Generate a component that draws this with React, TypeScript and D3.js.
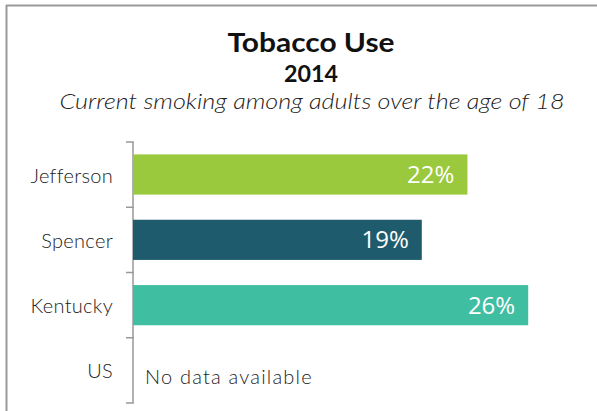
import React from "react";
import * as d3 from "d3";

const categories = ["Jefferson", "Spencer", "Kentucky", "US"];
const values: (number | null)[] = [22, 19, 26, null];
const colors = ["#9AC93D", "#1E5C6D", "#3FBEA1", "#cccccc"];
const title = "Tobacco Use";
const year = "2014";
const subtitle = "Current smoking among adults over the age of 18";
const noDataText = "No data available";

export default function App() {
  const W = 597, H = 411;
  const x = d3.scaleLinear().domain([0, 30]).range([133, 589]);
  const y = d3.scaleBand<string>().domain(categories).range([142, 403]).paddingInner(0.385).paddingOuter(0.19);
  const y0 = 142;
  const boundaries = d3.range(categories.length + 1).map((i) => y0 + i * (261 / categories.length));
  const gothic = "'Lato', 'DejaVu Sans', sans-serif";
  return (
    <svg width={W} height={H} style={{ position: "absolute", left: 0, top: 0, background: "#fff" }}>
      <line x1={6} x2={597} y1={5.5} y2={5.5} stroke="#9a9a9a" strokeWidth={2} />
      <line x1={6.5} x2={6.5} y1={5} y2={411} stroke="#9a9a9a" strokeWidth={2} />
      <text x={311} y={52} textAnchor="middle" fontFamily={gothic} fontWeight={700} fontSize={26} fill="#111" textLength={167} lengthAdjust="spacingAndGlyphs">{title}</text>
      <text x={311} y={82} textAnchor="middle" fontFamily={gothic} fontWeight={700} fontSize={22} fill="#111" textLength={54} lengthAdjust="spacingAndGlyphs">{year}</text>
      <text x={312} y={109} textAnchor="middle" fontFamily={gothic} fontStyle="italic" fontWeight={300} fontSize={21} fill="#222" textLength={505} lengthAdjust="spacingAndGlyphs">{subtitle}</text>
      <line x1={133} x2={133} y1={boundaries[0]} y2={boundaries[boundaries.length - 1]} stroke="#999" strokeWidth={1.5} />
      {boundaries.map((b, i) => (
        <line key={i} x1={126} x2={133.75} y1={b} y2={b} stroke="#999" strokeWidth={1.5} />
      ))}
      {categories.map((c, i) => {
        const v = values[i];
        const cy = y0 + (i + 0.5) * (261 / categories.length) + 1;
        return (
          <g key={c}>
            <text x={113} y={cy} dy="0.35em" textAnchor="end" fontFamily={gothic} fontWeight={300} fontSize={20} letterSpacing={0.3} fill="#222">{c}</text>
            {v !== null ? (
              <>
                <rect x={x(0)} y={y(c)} width={x(v) - x(0)} height={y.bandwidth()} fill={colors[i]} />
                <text x={x(v) - 13} y={(y(c) as number) + y.bandwidth() / 2} dy="0.36em" textAnchor="end" fontFamily="'Open Sans', sans-serif" fontSize={24} fill="#fff">{v}%</text>
              </>
            ) : (
              <text x={145} y={cy + 6} dy="0.35em" fontFamily={gothic} fontWeight={300} fontSize={20} letterSpacing={1.2} fill="#222">{noDataText}</text>
            )}
          </g>
        );
      })}
    </svg>
  );
}
